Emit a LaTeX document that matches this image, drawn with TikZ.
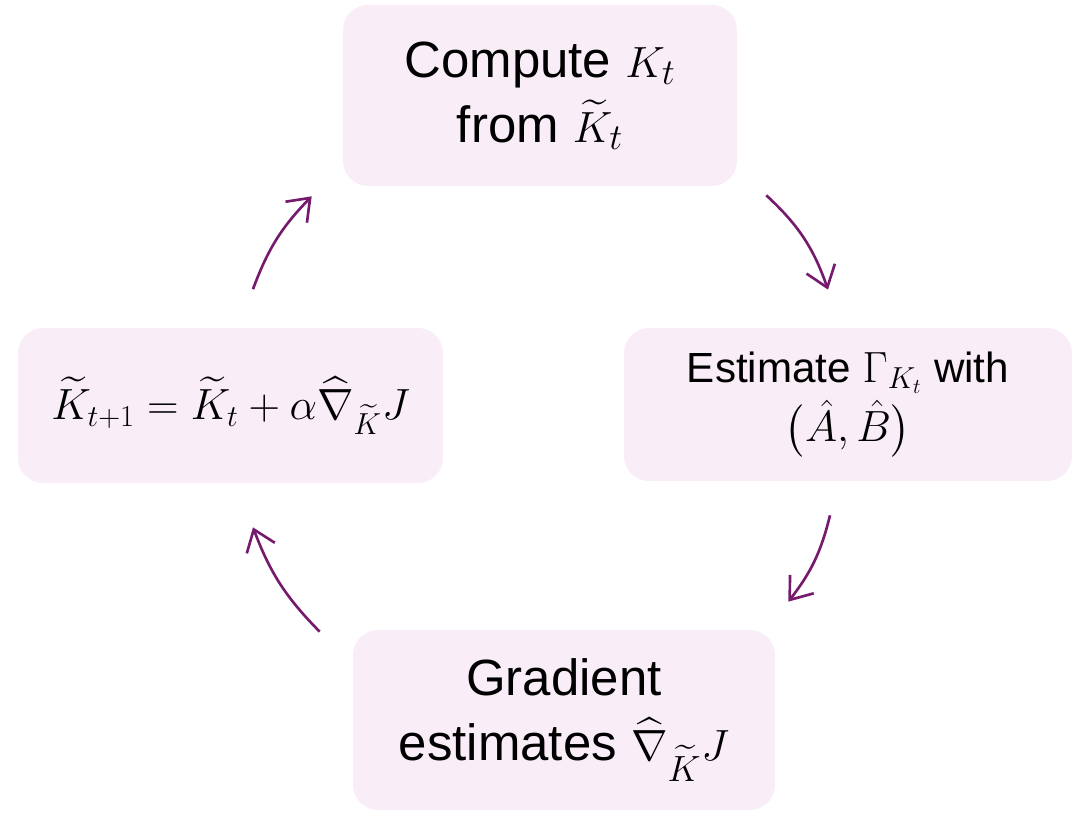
\documentclass[tikz,border=0pt]{standalone}
\usepackage{fontspec}
\setmainfont{Liberation Sans}
\usepackage{amsmath}
\usepackage{tikz}
\usetikzlibrary{
    positioning,
    arrows.meta
}
\definecolor{BoxPink}{RGB}{249,237,247}
\definecolor{ArrowPlum}{RGB}{118,26,110}

\begin{document}
\begin{tikzpicture}[
    x=0.02cm, y=0.02cm,
    bigbox/.style={rectangle, rounded corners=0.5cm, fill=BoxPink, align=center, font=\fontsize{29}{37}\selectfont},
    smallbox/.style={rectangle, rounded corners=0.5cm, fill=BoxPink, align=center, font=\fontsize{24}{34}\selectfont},
    arr/.style={line width=1.5pt, color=ArrowPlum, -{Straight Barb[length=4mm, width=6mm, line width=1.5pt]}},
]
\useasboundingbox (0,0) rectangle (1079,812);

\node[bigbox, minimum width=7.88cm, minimum height=3.62cm] (comp) at (540,716.5) {Compute $K_t$\\from $\widetilde{K}_t$};
\node[smallbox, minimum width=8.96cm, minimum height=3.06cm] (est) at (848,407.5) {Estimate $\Gamma_{K_t}$ with\\$\bigl(\hat{A},\hat{B}\bigr)$};
\node[bigbox, minimum width=8.44cm, minimum height=3.6cm] (grad) at (564,92) {Gradient\\estimates $\widehat{\nabla}_{\widetilde{K}}J$};
\node[smallbox, font=\fontsize{25}{34}\selectfont, minimum width=8.5cm, minimum height=3.1cm] (upd) at (230.5,406.5) {$\widetilde{K}_{t+1} = \widetilde{K}_t + \alpha\widehat{\nabla}_{\widetilde{K}}J$};

% cycle
\draw[arr] ([shift={(22.5,38.5)}]upd.north) to[bend left=12] ([shift={(-31,-10)}]comp.south west);
\draw[arr] ([shift={(29,-9)}]comp.south east) to[bend left=14] ([shift={(-20,38)}]est.north);
\draw[arr] ([shift={(-18,-34)}]est.south) to[bend left=12] ([shift={(13,28)}]grad.north east);
\draw[arr] ([shift={(-33,-2)}]grad.north west) to[bend left=12] ([shift={(22.5,-44)}]upd.south);
\end{tikzpicture}
\end{document}
